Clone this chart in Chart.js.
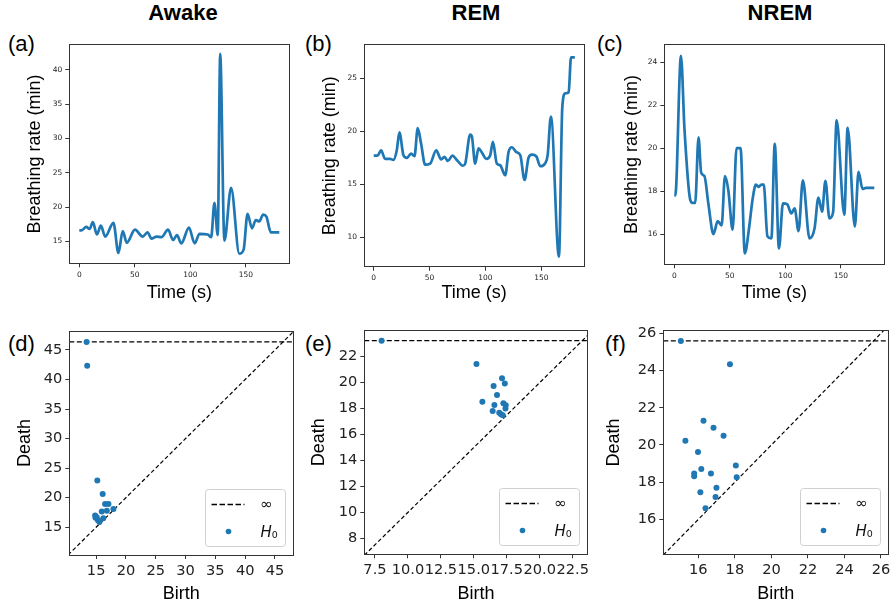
<!DOCTYPE html>
<html>
<head>
<meta charset="utf-8">
<script src="https://cdn.jsdelivr.net/npm/chart.js@4.4.1/dist/chart.umd.min.js"></script>
<style>
  body { margin: 0; background: #fff; }
  #fig { position: relative; width: 895px; height: 610px; overflow: hidden; font-family: 'Liberation Sans', Arial, sans-serif; color: #000; }
  #fig canvas { position: absolute; }
  .title { position: absolute; top: 2px; width: 200px; text-align: center; font-size: 22px; line-height: 22px; font-weight: bold; }
  .tag { position: absolute; font-size: 22px; line-height: 22px; }
</style>
</head>
<body>
<div id="fig">
  <div class="title" style="left:83px">Awake</div>
  <div class="title" style="left:376px">REM</div>
  <div class="title" style="left:680px">NREM</div>
  <div class="tag" style="left:8px;top:33px">(a)</div>
  <div class="tag" style="left:305px;top:33px">(b)</div>
  <div class="tag" style="left:597px;top:33px">(c)</div>
  <div class="tag" style="left:8px;top:333px">(d)</div>
  <div class="tag" style="left:305px;top:333px">(e)</div>
  <div class="tag" style="left:605px;top:333px">(f)</div>
</div>
<script>
// breathing rate traces (time in s, rate per min)
const awakeTime = [0, 2, 6.3, 9.2, 12.2, 15.8, 19.4, 23.3, 30.7, 35.2, 39.1, 42.7, 50.1, 57, 61.4, 65, 69.5, 74, 79.9, 84.4, 87.9, 91.8, 98.7, 103.8, 108.2, 115.6, 118.7, 121.6, 124.6, 126.8, 130.6, 136.6, 144, 147.9, 151.4, 155.4, 158.9, 161.9, 165.5, 168.4, 172.4, 180]
const awakeRate = [16.6, 16.6, 17.1, 16.8, 17.8, 16.0, 17.3, 15.7, 17.7, 13.3, 16.5, 14.8, 16.7, 15.7, 16.3, 15.4, 15.7, 15.6, 16.7, 15.2, 15.9, 14.7, 17.0, 14.7, 16.1, 16.0, 15.6, 20.6, 15.9, 42.3, 15.1, 22.8, 13.2, 13.8, 19.0, 16.9, 18.1, 17.9, 18.9, 18.6, 16.3, 16.3]

const remTime = [0, 3.3, 6.6, 10.2, 14.6, 17.6, 20.6, 23, 26.6, 29.6, 33.5, 36.5, 39.4, 42.4, 46, 50.5, 55.9, 60.4, 63.3, 66.3, 70.5, 74.4, 79.8, 81.9, 86.3, 87.8, 90.8, 93.8, 96.8, 100.7, 104.3, 106.7, 110.2, 113.2, 117.7, 120.7, 123.7, 127.6, 131.2, 135, 138.6, 141.6, 145.5, 149.1, 153.6, 155.7, 158.6, 165.8, 168.8, 171.5, 174.5, 176.6, 180]
const remRate = [17.7, 17.7, 18.2, 17.4, 17.4, 17.3, 18.2, 19.9, 17.75, 17.5, 17.9, 17.65, 20.3, 18.85, 16.85, 16.95, 18.2, 17.35, 17.6, 17.2, 17.7, 17.3, 16.75, 16.95, 19.7, 19.55, 16.95, 18.4, 18.0, 17.4, 17.75, 19.0, 16.95, 16.8, 15.85, 18.05, 18.5, 18.05, 17.75, 15.4, 17.5, 17.8, 17.65, 16.7, 17.0, 17.75, 21.4, 8.15, 22.3, 23.6, 23.7, 27.0, 27.0]

const nremTime = [0, 0.9, 6, 9.2, 14.3, 16.4, 18.8, 21.8, 24.2, 27.1, 30.7, 35.2, 39.1, 42.6, 45.6, 48.6, 52.5, 56, 59.6, 63.5, 67.1, 70.4, 73.4, 76, 78.4, 80.5, 83.8, 87.4, 90.4, 94.2, 97.8, 101.7, 105.3, 108.3, 111.8, 115.7, 121.7, 126.2, 129.7, 133, 136, 139.6, 142.9, 146.1, 153, 156, 162.5, 165.8, 169.4, 172.4, 180]
const nremRate = [17.8, 17.8, 24.3, 20.85, 17.6, 17.45, 17.45, 20.5, 18.85, 18.7, 17.4, 16.0, 16.6, 16.4, 18.7, 18.05, 16.2, 20.0, 20.0, 15.1, 16.2, 17.6, 18.3, 18.2, 18.3, 18.3, 15.9, 15.8, 20.2, 15.33, 17.43, 17.38, 16.96, 17.2, 16.14, 18.5, 15.8, 16.26, 17.7, 17.04, 18.48, 16.73, 17.0, 21.3, 16.9, 20.95, 16.35, 18.9, 18.1, 18.15, 18.15]

// persistence diagrams (H0), first point is the infinite one
const awakeBirth = [13.4, 13.5, 15.2, 16.1, 16.5, 17.06, 17.9, 14.83, 15.1, 15.95, 16.8, 15.55, 16.2, 15.3, 14.9]
const awakeDeath = [46.35, 42.3, 22.9, 20.6, 18.95, 18.95, 18.1, 17.0, 16.7, 17.64, 17.8, 15.9, 16.5, 16.2, 16.6]
const remBirth = [8.0, 15.2, 17.14, 17.35, 16.5, 16.76, 15.65, 16.56, 17.24, 17.42, 17.4, 16.43, 16.93, 17.06, 17.2]
const remDeath = [23.23, 21.43, 20.33, 19.94, 19.74, 19.05, 18.53, 18.28, 18.4, 18.25, 18.0, 17.81, 17.68, 17.56, 17.48]
const nremBirth = [15.04, 17.73, 16.28, 16.83, 17.38, 15.29, 15.98, 18.05, 16.16, 15.77, 15.77, 16.69, 18.1, 16.11, 16.99, 16.94, 16.39]
const nremDeath = [25.59, 24.33, 21.3, 20.92, 20.49, 20.23, 19.62, 18.89, 18.71, 18.47, 18.31, 18.47, 18.26, 17.45, 17.7, 17.2, 16.59]
const awakeInf = 46.35
const remInf = 23.23
const nremInf = 25.59

// tick labels
const timeTicks = [0, 50, 100, 150]
const awakeRateTicks = [15, 20, 25, 30, 35, 40]
const remRateTicks = [10, 15, 20, 25]
const nremRateTicks = [16, 18, 20, 22, 24]
const awakePdTicks = [15, 20, 25, 30, 35, 40, 45]
const remPdXTicks = [7.5, 10, 12.5, 15, 17.5, 20, 22.5]
const remPdYTicks = [8, 10, 12, 14, 16, 18, 20, 22]
const nremPdTicks = [16, 18, 20, 22, 24, 26]

const blue = '#1f77b4'
Chart.defaults.font.family = "'DejaVu Sans', sans-serif"

const frame = {
  id: 'frame',
  afterDatasetsDraw(chart) {
    const { ctx, chartArea: a } = chart
    ctx.save()
    ctx.strokeStyle = '#333'
    ctx.lineWidth = 1
    const l = Math.floor(a.left) + 0.5, t = Math.floor(a.top) + 0.5
    const r = Math.floor(a.right) + 0.5, b = Math.floor(a.bottom) + 0.5
    ctx.strokeRect(l, t, r - l, b - t)
    ctx.restore()
  }
}

// matplotlib style legend in the lower right corner
const legendBox = {
  id: 'legendBox',
  afterDraw(chart) {
    const { ctx, chartArea: a } = chart
    const w = 80, h = 57
    const x = Math.round(a.right - 8.5 - w) + 0.5, y = Math.round(a.bottom - 9 - h) + 0.5
    ctx.save()
    ctx.beginPath()
    if (ctx.roundRect) ctx.roundRect(x, y, w, h, 3)
    else ctx.rect(x, y, w, h)
    ctx.fillStyle = 'rgba(255,255,255,0.8)'
    ctx.fill()
    ctx.strokeStyle = '#d0d0d0'
    ctx.lineWidth = 1
    ctx.stroke()

    ctx.beginPath()
    ctx.setLineDash([5.5, 2.5])
    ctx.strokeStyle = '#000'
    ctx.lineWidth = 1.4
    ctx.moveTo(x + 6, y + 15)
    ctx.lineTo(x + 39, y + 15)
    ctx.stroke()
    ctx.setLineDash([])

    ctx.fillStyle = '#111'
    ctx.textAlign = 'center'
    ctx.textBaseline = 'alphabetic'
    ctx.font = "15px 'DejaVu Sans'"
    ctx.fillText('∞', x + 61, y + 19.5)

    ctx.beginPath()
    ctx.arc(x + 23, y + 42, 2.8, 0, Math.PI * 2)
    ctx.fillStyle = blue
    ctx.fill()

    ctx.fillStyle = '#111'
    ctx.textAlign = 'left'
    ctx.font = "italic 15px 'DejaVu Sans'"
    ctx.fillText('H', x + 55, y + 47)
    ctx.font = "9.5px 'DejaVu Sans'"
    ctx.fillText('0', x + 66.3, y + 48.5)
    ctx.restore()
  }
}

function axis(pos, o, size) {
  return {
    type: 'linear',
    position: pos,
    min: o.range[0],
    max: o.range[1],
    afterBuildTicks: (s) => { s.ticks = o.ticks.map(v => ({ value: v })) },
    afterFit: (s) => { if (pos === 'left') s.width = size; else s.height = size },
    grid: { drawOnChartArea: false, drawTicks: true, tickLength: 4, color: '#333' },
    border: { display: false },
    ticks: {
      autoSkip: false, maxRotation: 0, minRotation: 0, padding: 3, color: '#222',
      font: { size: o.font },
      callback: o.fmt || (v => '' + v)
    },
    title: {
      display: true, text: o.title, color: '#000',
      font: { family: "'Liberation Sans', Arial, sans-serif", size: 18 },
      padding: pos === 'left' ? { top: o.pad, bottom: 0 } : { top: 0, bottom: o.pad }
    }
  }
}

function panel(box, area, datasets, x, y, extra) {
  const cv = document.createElement('canvas')
  cv.width = box[2]
  cv.height = box[3]
  cv.style.left = box[0] + 'px'
  cv.style.top = box[1] + 'px'
  document.getElementById('fig').appendChild(cv)
  return new Chart(cv, {
    type: 'line',
    data: { datasets },
    options: {
      responsive: false,
      animation: false,
      layout: { padding: { left: 0, top: area[1] - box[1], right: box[0] + box[2] - area[2], bottom: 0 } },
      plugins: { legend: { display: false }, tooltip: { enabled: false } },
      scales: {
        x: axis('bottom', x, box[1] + box[3] - area[3]),
        y: axis('left', y, area[0] - box[0])
      }
    },
    plugins: [frame].concat(extra || [])
  })
}

const pairs = (xs, ys) => xs.map((v, i) => ({ x: v, y: ys[i] }))

function trace(ts, vs) {
  return [{
    data: pairs(ts, vs), borderColor: blue, borderWidth: 2.7,
    pointRadius: 0, cubicInterpolationMode: 'monotone', fill: false
  }]
}

function diagram(birth, death, inf, xr, yr) {
  const lo = Math.min(xr[0], yr[0]), hi = Math.max(xr[1], yr[1])
  return [
    { data: pairs(birth, death), showLine: false, pointRadius: 3, pointBackgroundColor: blue, pointBorderWidth: 0 },
    { data: [{ x: xr[0], y: inf }, { x: xr[1], y: inf }], borderColor: '#000', borderWidth: 1.3, borderDash: [5, 2.5], pointRadius: 0 },
    { data: [{ x: lo, y: lo }, { x: hi, y: hi }], borderColor: '#000', borderWidth: 1.2, borderDash: [4, 2.5], pointRadius: 0 }
  ]
}

const tickTop = 7.5
const tickBottom = 14.6

// top row: breathing rate over time
panel([0, 30, 300, 280], [69.3, 44.7, 289.3, 263.3], trace(awakeTime, awakeRate),
  { range: [-9, 189], ticks: timeTicks, title: 'Time (s)', pad: 6, font: tickTop },
  { range: [11.8, 43.65], ticks: awakeRateTicks, title: 'Breathing rate (min)', pad: 24.7, font: tickTop })
panel([300, 30, 295, 280], [364, 44.7, 584.3, 266.7], trace(remTime, remRate),
  { range: [-8.7, 188.5], ticks: timeTicks, title: 'Time (s)', pad: 6, font: tickTop },
  { range: [7.2, 28.2], ticks: remRateTicks, title: 'Breathing rate (min)', pad: 19.7, font: tickTop })
panel([595, 30, 300, 280], [664.3, 44.7, 884.3, 264.3], trace(nremTime, nremRate),
  { range: [-9, 189], ticks: timeTicks, title: 'Time (s)', pad: 6, font: tickTop },
  { range: [14.59, 24.82], ticks: nremRateTicks, title: 'Breathing rate (min)', pad: 26.7, font: tickTop })

// bottom row: persistence diagrams
const dX = [10.5, 48.07], dY = [10.3, 48.2]
panel([0, 318, 300, 292], [69.3, 331, 293.3, 555], diagram(awakeBirth, awakeDeath, awakeInf, dX, dY),
  { range: dX, ticks: awakePdTicks, title: 'Birth', pad: 5, font: tickBottom },
  { range: dY, ticks: awakePdTicks, title: 'Death', pad: 14.2, font: tickBottom }, [legendBox])
const eX = [6.69, 23.64], eY = [6.77, 24.03]
panel([300, 318, 295, 292], [364.3, 330.3, 587.7, 554.3], diagram(remBirth, remDeath, remInf, eX, eY),
  { range: eX, ticks: remPdXTicks, title: 'Birth', pad: 5, font: tickBottom, fmt: v => v.toFixed(1) },
  { range: eY, ticks: remPdYTicks, title: 'Death', pad: 8, font: tickBottom }, [legendBox])
const fX = [14.08, 26.4], fY = [14.12, 26.14]
panel([595, 318, 300, 292], [663.3, 330.7, 888.3, 554.3], diagram(nremBirth, nremDeath, nremInf, fX, fY),
  { range: fX, ticks: nremPdTicks, title: 'Birth', pad: 5, font: tickBottom },
  { range: fY, ticks: nremPdTicks, title: 'Death', pad: 8, font: tickBottom }, [legendBox])
</script>
</body>
</html>
